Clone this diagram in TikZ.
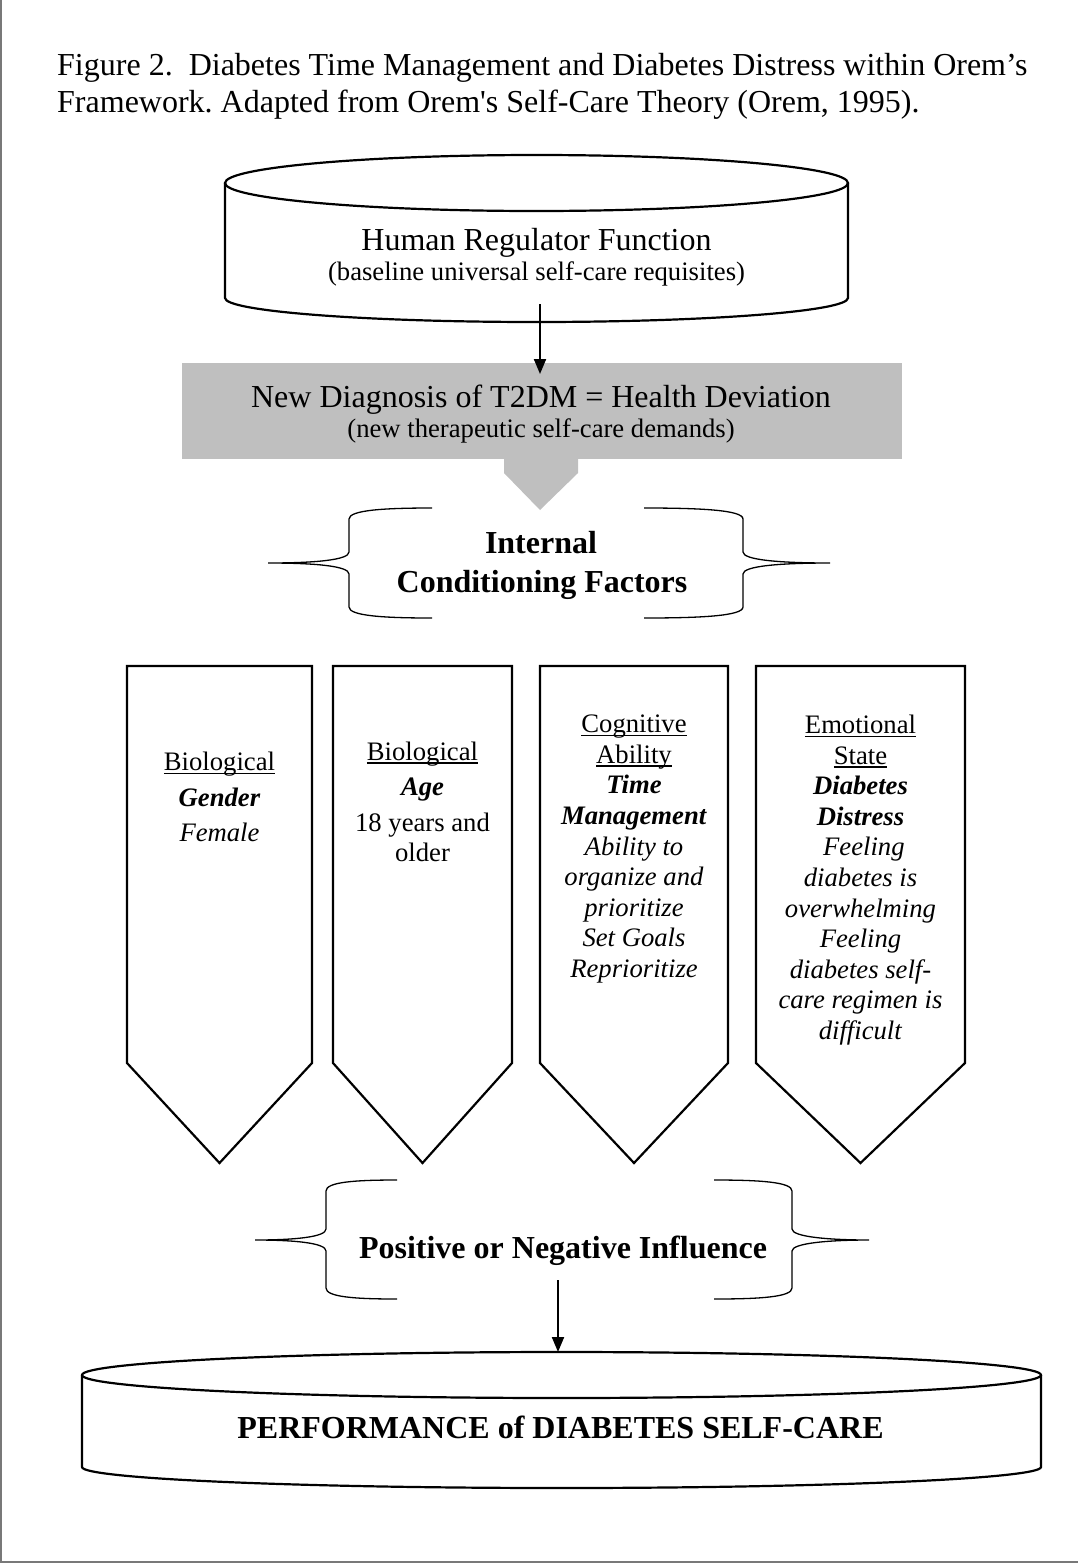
\documentclass[tikz,border=0pt]{standalone}
\usepackage{fontspec}
\newfontfamily\tnr{Liberation Serif}[Ligatures=CommonOff]
\usetikzlibrary{arrows.meta}
\definecolor{boxgray}{RGB}{191,191,191}
\definecolor{framegray}{RGB}{120,120,120}
\newcommand{\ulx}[1]{\setbox0\hbox{#1}\rlap{\rule[-0.135em]{\wd0}{0.055em}}\box0}
\tikzset{
  outline/.style={draw=black, line width=2.2pt},
  bracestyle/.style={draw=black, line width=1.3pt},
  arr/.style={draw=black, line width=2pt, -{Triangle[length=15pt,width=12pt]}},
  maintext/.style={font=\tnr\frenchspacing\fontsize{32}{37}\selectfont, inner sep=0pt},
  boldtext/.style={font=\tnr\frenchspacing\bfseries\fontsize{32}{37}\selectfont, inner sep=0pt},
  smalltext/.style={font=\tnr\frenchspacing\fontsize{26.67}{30.6}\selectfont, inner sep=0pt},
  boxtext/.style={font=\tnr\frenchspacing\fontsize{26.67}{30.6}\selectfont, align=center, inner sep=0pt, anchor=north},
}
\begin{document}
\begin{tikzpicture}[x=1pt,y=-1pt]
\useasboundingbox (0,0) rectangle (1078,1564);
% page frame
\draw[framegray, line width=1.5pt] (1,0) -- (1,1562) -- (1078,1562);

% title
\node[maintext, anchor=base west] (title1) at (57,75) {Figure 2.\ \ Diabetes Time Management and Diabetes Distress within Orem’s};
\node[maintext, anchor=base west] (title2) at (57,112) {Framework. Adapted from Orem's Self-Care Theory (Orem, 1995).};

% top cylinder
\draw[outline, fill=white] (225,183) -- (225,298) .. controls (225,311.25) and (364.5,322) .. (536.5,322) .. controls (708.5,322) and (848,311.25) .. (848,298) -- (848,183);
\draw[outline] (536.5,183) ellipse [x radius=311.5, y radius=28];
\node[maintext, anchor=base] (hrf) at (536.5,250) {Human Regulator Function};
\node[smalltext, anchor=base] (hrfsub) at (536.5,280) {(baseline universal self-care requisites)};

% gray box
\node[fill=boxgray, minimum width=720pt, minimum height=96pt, inner sep=0pt, anchor=north west] (diag) at (182,363) {};
\fill[boxgray] (504,458) -- (504,473) -- (540,510) -- (578,473) -- (578,458) -- cycle;
\node[maintext, anchor=base] (diagt) at (541,407) {New Diagnosis of T2DM = Health Deviation};
\node[smalltext, anchor=base] (diags) at (541,437) {(new therapeutic self-care demands)};

\coordinate (a1) at (540,304);
\draw[arr] (a1) -- ([yshift=-11pt]diag.north -| a1);

% internal conditioning factors
\draw[bracestyle] (432,508) .. controls (385,508) and (349,510) .. (349,519) -- (349,552) .. controls (349,560) and (315,563) .. (268,563) .. controls (315,563) and (349,566) .. (349,574) -- (349,607) .. controls (349,616) and (385,618) .. (432,618);
\draw[bracestyle] (644,508) .. controls (700,508) and (743,510) .. (743,519) -- (743,552) .. controls (743,560) and (780,563) .. (830,563) .. controls (780,563) and (743,566) .. (743,574) -- (743,607) .. controls (743,616) and (700,618) .. (644,618);
\node[boldtext, anchor=base] (icf1) at (541,553) {Internal};
\node[boldtext, anchor=base] (icf2) at (542,592) {Conditioning Factors};

% chevrons
\draw[outline] (127,666) -- (127,1063) -- (219.5,1163) -- (312,1063) -- (312,666) -- cycle;
\draw[outline] (333,666) -- (333,1063) -- (422.5,1163) -- (512,1063) -- (512,666) -- cycle;
\draw[outline] (540,666) -- (540,1063) -- (634,1163) -- (728,1063) -- (728,666) -- cycle;
\draw[outline] (756,666) -- (756,1063) -- (860.5,1163) -- (965,1063) -- (965,666) -- cycle;

\node[boxtext, font=\tnr\frenchspacing\fontsize{26.67}{35.5}\selectfont] (b1) at (219.5,751.8)
  {\ulx{Biological}\\\textbf{\textit{Gender}}\\\textit{Female}};
\node[boxtext, font=\tnr\frenchspacing\fontsize{26.67}{30.5}\selectfont] (b2) at (422.5,741.3)
  {\ulx{Biological}\\[4.5pt]\textbf{\textit{Age}}\\[5.5pt]18 years and\\older};
\node[boxtext] (b3) at (634,714.8)
  {\ulx{Cognitive}\\\ulx{Ability}\\\textbf{\textit{Time}}\\\textbf{\textit{Management}}\\\textit{Ability to}\\\textit{organize and}\\\textit{prioritize}\\\textit{Set Goals}\\\textit{Reprioritize}};
\node[boxtext] (b4) at (860.5,714.8)
  {\ulx{Emotional}\\\ulx{State}\\\textbf{\textit{Diabetes}}\\\textbf{\textit{Distress}}\\\hspace*{0.25em}\textit{Feeling}\\\textit{diabetes is}\\\textit{overwhelming}\\\textit{Feeling}\\\textit{diabetes self-}\\\textit{care regimen is}\\\textit{difficult}};

% positive or negative influence
\draw[bracestyle] (397,1180) .. controls (355,1180) and (326,1182) .. (326,1191) -- (326,1229) .. controls (326,1237) and (295,1240) .. (255,1240) .. controls (295,1240) and (326,1243) .. (326,1251) -- (326,1288) .. controls (326,1297) and (355,1299) .. (397,1299);
\draw[bracestyle] (714,1180) .. controls (760,1180) and (792,1182) .. (792,1191) -- (792,1229) .. controls (792,1237) and (830,1240) .. (869,1240) .. controls (830,1240) and (792,1243) .. (792,1251) -- (792,1288) .. controls (792,1297) and (760,1299) .. (714,1299);
\node[boldtext, anchor=base] (pni) at (563,1258) {Positive or Negative Influence};

% bottom cylinder
\draw[outline, fill=white] (82,1375) -- (82,1467) .. controls (82,1478.6) and (296.7,1488) .. (561.5,1488) .. controls (826.3,1488) and (1041,1478.6) .. (1041,1467) -- (1041,1375);
\draw[outline] (561.5,1375) ellipse [x radius=479.5, y radius=23];
\node[boldtext, anchor=base] (perf) at (560.5,1438) {PERFORMANCE of DIABETES SELF-CARE};

\coordinate (a2) at (558,1280);
\coordinate (c2top) at (558,1352);
\draw[arr] (a2) -- (c2top);
\end{tikzpicture}
\end{document}
